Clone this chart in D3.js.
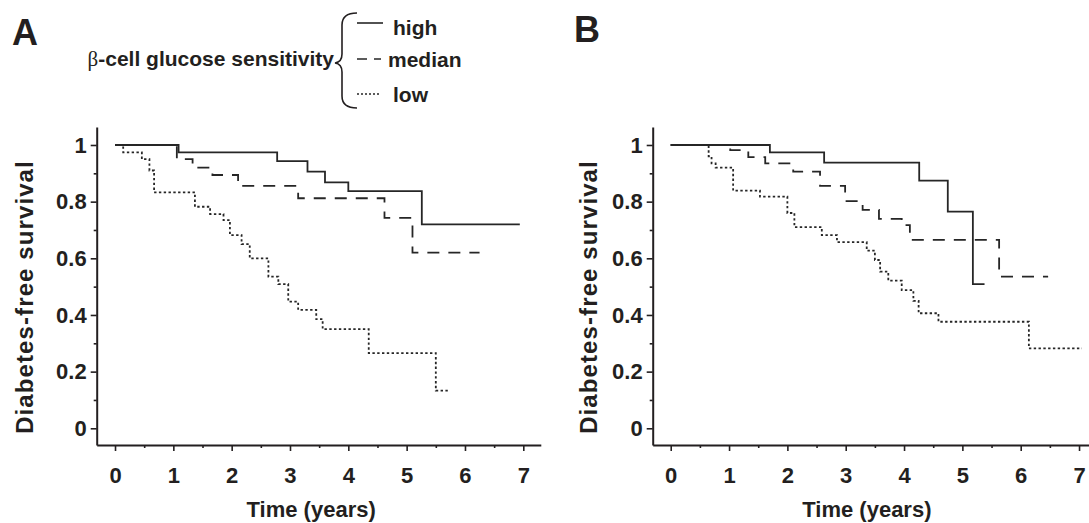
<!DOCTYPE html>
<html>
<head>
<meta charset="utf-8">
<script src="https://cdn.jsdelivr.net/npm/d3@7"></script>
<style>
  html, body { margin: 0; padding: 0; background: #fff; }
  svg { display: block; }
  text { font-family: "Liberation Sans", Arial, sans-serif; font-weight: bold; fill: #231f20; }
</style>
</head>
<body>
<svg id="chart" width="1089" height="523"></svg>
<script>
// ---- data ----
const xTickValues = [0, 1, 2, 3, 4, 5, 6, 7];
const xMinorTicks = [0.5, 1.5, 2.5, 3.5, 4.5, 5.5, 6.5];
const yTickValues = [0, 0.2, 0.4, 0.6, 0.8, 1];
const yTickLabels = ["0", "0.2", "0.4", "0.6", "0.8", "1"];
const yMinorTicks = [0.1, 0.3, 0.5, 0.7, 0.9];
const panelLabels = ["A", "B"];
const groups = ["high", "median", "low"];
const legendTitle = "-cell glucose sensitivity";
const xAxisTitle = "Time (years)";
const yAxisTitle = "Diabetes-free survival";

// Panel A (Kaplan-Meier steps: time of event, survival after event; last = censoring end)
const timeA_high   = [0, 1.09, 2.78, 3.30, 3.60, 4.00, 5.26, 6.94];
const survA_high   = [1, 0.974, 0.943, 0.906, 0.868, 0.837, 0.720, 0.720];
const timeA_median = [0, 1.06, 1.33, 1.67, 2.11, 3.14, 4.62, 5.10, 6.25];
const survA_median = [1, 0.950, 0.920, 0.894, 0.856, 0.812, 0.743, 0.620, 0.620];
const timeA_low    = [0, 0.14, 0.46, 0.59, 0.67, 1.37, 1.63, 1.86, 1.97, 2.17, 2.31, 2.63, 2.80, 2.97, 3.14, 3.45, 3.56, 4.35, 5.50, 5.74];
const survA_low    = [1, 0.974, 0.950, 0.910, 0.833, 0.782, 0.756, 0.735, 0.682, 0.650, 0.600, 0.535, 0.509, 0.447, 0.418, 0.385, 0.350, 0.265, 0.133, 0.133];

// Panel B
const timeB_high   = [0, 1.70, 2.63, 4.26, 4.75, 5.18, 5.38];
const survB_high   = [1, 0.974, 0.938, 0.874, 0.765, 0.509, 0.509];
const timeB_median = [0, 1.02, 1.33, 1.62, 2.10, 2.56, 2.99, 3.29, 3.57, 3.96, 4.10, 5.63, 6.47];
const survB_median = [1, 0.982, 0.957, 0.935, 0.906, 0.856, 0.802, 0.771, 0.739, 0.717, 0.665, 0.535, 0.535];
const timeB_low    = [0, 0.65, 0.70, 0.77, 1.07, 1.53, 2.00, 2.12, 2.59, 2.85, 3.36, 3.50, 3.59, 3.73, 3.96, 4.16, 4.25, 4.59, 6.14, 7.05];
const survB_low    = [1, 0.960, 0.935, 0.920, 0.839, 0.818, 0.760, 0.710, 0.682, 0.657, 0.627, 0.594, 0.553, 0.521, 0.488, 0.450, 0.406, 0.376, 0.282, 0.282];

// ---- drawing ----
const svg = d3.select("#chart");
const ink = "#231f20";
const lineInk = "#262626";
const styles = {
  high:   { dash: null },
  median: { dash: "12,9" },
  low:    { dash: "2.4,2.4" }
};

const panels = [
  { label: panelLabels[0], labelX: 12, labelY: 45, axisX: 96.7, xDomain: [-0.314, 7.3], xRange: [96.7, 540.8],
    yTitleX: 33, yTitleY: 297, xTitleShift: -8,
    series: { high: [timeA_high, survA_high], median: [timeA_median, survA_median], low: [timeA_low, survA_low] } },
  { label: panelLabels[1], labelX: 574, labelY: 42, axisX: 652.7, xDomain: [-0.309, 7.2], xRange: [652.7, 1090.7],
    yTitleX: 597, yTitleY: 297, xTitleShift: -8,
    series: { high: [timeB_high, survB_high], median: [timeB_median, survB_median], low: [timeB_low, survB_low] } }
];

const y = d3.scaleLinear().domain([-0.059, 1.0635]).range([445, 127]);

panels.forEach(p => {
  const x = d3.scaleLinear().domain(p.xDomain).range(p.xRange);
  const g = svg.append("g");

  // Panel letter
  g.append("text").attr("x", p.labelX).attr("y", p.labelY)
    .style("font-size", "36px").text(p.label);

  // X axis major
  g.append("g").attr("transform", "translate(0,445)")
    .call(d3.axisBottom(x).tickValues(xTickValues).tickSizeOuter(0).tickSizeInner(6).tickPadding(16)
      .tickFormat(d3.format("d")));
  // X axis minor
  g.append("g").attr("transform", "translate(0,445)")
    .call(d3.axisBottom(x).tickValues(xMinorTicks).tickSizeOuter(0).tickSizeInner(3).tickFormat(""))
    .select(".domain").remove();

  // Y axis major
  g.append("g").attr("transform", `translate(${p.axisX},0)`)
    .call(d3.axisLeft(y).tickValues(yTickValues).tickSizeOuter(0).tickSizeInner(6).tickPadding(4)
      .tickFormat((d, i) => yTickLabels[i]));
  g.append("g").attr("transform", `translate(${p.axisX},0)`)
    .call(d3.axisLeft(y).tickValues(yMinorTicks).tickSizeOuter(0).tickSizeInner(3).tickFormat(""))
    .select(".domain").remove();

  g.selectAll(".domain").attr("stroke", ink).attr("stroke-width", 2);
  g.selectAll(".tick line").attr("stroke", ink).attr("stroke-width", 1.6);
  g.selectAll(".tick text").attr("fill", ink)
    .style("font-family", '"Liberation Sans", Arial, sans-serif')
    .style("font-weight", "bold").style("font-size", "22px");

  // Axis titles
  g.append("text")
    .attr("x", x(3.5) + p.xTitleShift).attr("y", 517)
    .attr("text-anchor", "middle").style("font-size", "22px").text(xAxisTitle);
  g.append("text")
    .attr("transform", `translate(${p.yTitleX},${p.yTitleY}) rotate(-90)`)
    .attr("text-anchor", "middle").style("font-size", "24px").style("letter-spacing", "1.1px")
    .text(yAxisTitle);

  // Survival curves
  const line = d3.line().x(d => x(d[0])).y(d => y(d[1])).curve(d3.curveStepAfter);
  groups.forEach(k => {
    const [t, s] = p.series[k];
    const pts = t.map((v, i) => [v, s[i]]);
    const path = g.append("path").attr("d", line(pts))
      .attr("fill", "none").attr("stroke", lineInk).attr("stroke-width", 1.8);
    if (styles[k].dash) path.attr("stroke-dasharray", styles[k].dash);
  });
});

// ---- legend ----
const lg = svg.append("g");
const legendTitleText = lg.append("text").attr("x", 334).attr("y", 66)
  .attr("text-anchor", "end").style("font-size", "21px");
legendTitleText.append("tspan")
  .style("font-family", '"Liberation Serif", "Times New Roman", serif')
  .style("font-weight", "normal").text("β");
legendTitleText.append("tspan").text(legendTitle);

// brace
lg.append("path")
  .attr("d", "M357,13 Q342,13 342,25 L342,54 Q342,62 335,63 Q342,64 342,72 L342,96 Q342,108 357,108")
  .attr("fill", "none").attr("stroke", ink).attr("stroke-width", 1.6);

const legendRows = [
  { key: groups[0], ly: 23, ty: 35, tx: 393, dash: null },
  { key: groups[1], ly: 59, ty: 67, tx: 388, dash: "10,7" },
  { key: groups[2], ly: 94, ty: 102, tx: 393, dash: "2,2" }
];
legendRows.forEach(r => {
  const l = lg.append("line").attr("x1", 357).attr("x2", r.key === "high" ? 383 : 381)
    .attr("y1", r.ly).attr("y2", r.ly).attr("stroke", lineInk).attr("stroke-width", 1.6);
  if (r.dash) l.attr("stroke-dasharray", r.dash);
  lg.append("text").attr("x", r.tx).attr("y", r.ty).style("font-size", "21px").text(r.key);
});
</script>
</body>
</html>
